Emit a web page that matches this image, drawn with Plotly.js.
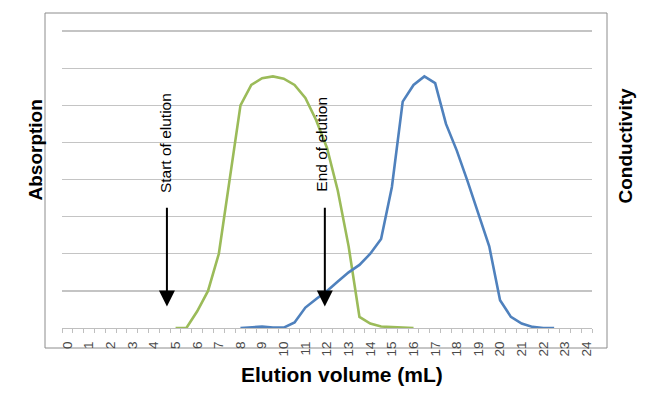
<!DOCTYPE html>
<html>
<head>
<meta charset="utf-8">
<script src="https://cdn.plot.ly/plotly-3.0.1.min.js"></script>
<style>html,body{margin:0;padding:0;background:#fff;}#chart{width:663px;height:403px;}</style>
</head>
<body>
<div id="chart"></div>
<script>
// Elution volume (mL) sample points and readings
var volumeAbsorption = [5, 5.5, 6, 6.5, 7, 7.5, 8, 8.5, 9, 9.5, 10, 10.5, 11, 11.5, 12, 12.5, 13, 13.5, 14, 14.5, 15, 15.5, 16];
var absorption       = [0, 0, 0.45, 1.0, 2.0, 4.0, 6.0, 6.55, 6.73, 6.78, 6.72, 6.55, 6.2, 5.6, 4.85, 3.7, 2.2, 0.3, 0.12, 0.04, 0.02, 0, 0];

var volumeConductivity = [8, 8.5, 9, 9.5, 10, 10.5, 11, 11.5, 12, 12.5, 13, 13.5, 14, 14.5, 15, 15.5, 16, 16.5, 17, 17.5, 18, 18.5, 19, 19.5, 20, 20.5, 21, 21.5, 22, 22.5];
var conductivity       = [0, 0.03, 0.04, 0.01, 0.01, 0.15, 0.55, 0.78, 1.0, 1.25, 1.5, 1.7, 2.0, 2.4, 3.8, 6.1, 6.55, 6.78, 6.6, 5.5, 4.78, 3.95, 3.1, 2.2, 0.75, 0.3, 0.12, 0.03, 0, 0];

var tickValues = [0,1,2,3,4,5,6,7,8,9,10,11,12,13,14,15,16,17,18,19,20,21,22,23,24];
var tickLabels = ["0","1","2","3","4","5","6","7","8","9","10","11","12","13","14","15","16","17","18","19","20","21","22","23","24"];

var markerLabels = ["Start of elution", "End of elution"];
var markerVolumes = [4.6, 11.9];

var traces = [
  {x: volumeAbsorption, y: absorption, type: 'scatter', mode: 'lines', name: 'Absorption',
   line: {color: '#9BBB59', width: 2.6}, yaxis: 'y', hoverinfo: 'skip'},
  {x: volumeConductivity, y: conductivity, type: 'scatter', mode: 'lines', name: 'Conductivity',
   line: {color: '#4F81BD', width: 2.6}, yaxis: 'y2', hoverinfo: 'skip'}
];

var L = 62, R = 592, T = 30, B = 328;
function px(xp){ return (xp - L) / (R - L); }
function py(yp){ return (B - yp) / (B - T); }

var annotations = [
  {xref: 'paper', yref: 'paper', x: px(22), y: py(150), text: '<b>Absorption</b>', showarrow: false,
   textangle: -90, font: {family: 'Liberation Sans, Arial, sans-serif', size: 19, color: '#000'}},
  {xref: 'paper', yref: 'paper', x: px(637), y: py(146), text: '<b>Conductivity</b>', showarrow: false,
   textangle: -90, font: {family: 'Liberation Sans, Arial, sans-serif', size: 19, color: '#000'}},
  {xref: 'paper', yref: 'paper', x: px(342), y: py(388), text: '<b>Elution volume (mL)</b>', showarrow: false,
   font: {family: 'Liberation Sans, Arial, sans-serif', size: 21, color: '#000'}}
];
var textOffsets = [-0.03, -0.13];
var textY = [4.99, 4.94];
for (var i = 0; i < markerLabels.length; i++) {
  annotations.push({xref: 'x', yref: 'y', x: markerVolumes[i] + textOffsets[i], y: textY[i], text: markerLabels[i],
    showarrow: false, textangle: -90,
    font: {family: 'Liberation Sans, Arial, sans-serif', size: 15.5, color: '#000'}});
  annotations.push({xref: 'x', yref: 'y', x: markerVolumes[i], y: 0.58, axref: 'x', ayref: 'y',
    ax: markerVolumes[i], ay: 3.28, text: '', showarrow: true, arrowhead: 2, arrowsize: 1.6,
    arrowwidth: 2, arrowcolor: '#000', standoff: 0, startstandoff: 0});
}

var layout = {
  width: 663, height: 403,
  margin: {l: L, r: 663 - R, t: T, b: 403 - B, pad: 0},
  paper_bgcolor: '#fff', plot_bgcolor: '#fff',
  showlegend: false,
  xaxis: {
    range: [-0.25, 24.25], tickmode: 'array', tickvals: tickValues, ticktext: tickLabels,
    tickangle: -90, ticks: '', showgrid: false, zeroline: false,
    showline: true, linecolor: '#bfbfbf', linewidth: 1, ticklabelstandoff: 7,
    tickfont: {family: 'Liberation Sans, Arial, sans-serif', size: 13.5, color: '#4a4a4a'},
    minor: {tick0: -0.25, dtick: 0.5, ticks: 'outside', ticklen: 4, tickcolor: '#bfbfbf', showgrid: false}
  },
  yaxis: {
    range: [0, 8.03], tickmode: 'linear', dtick: 1, tick0: 0, showticklabels: false, ticks: '',
    showgrid: true, gridcolor: '#c4c4c4', gridwidth: 1.3, zeroline: false, showline: false
  },
  yaxis2: {
    range: [0, 8.03], overlaying: 'y', side: 'right', showticklabels: false, ticks: '',
    showgrid: false, zeroline: false, showline: false
  },
  shapes: [
    {type: 'rect', xref: 'paper', yref: 'paper', x0: px(45), x1: px(607), y0: py(348), y1: py(13),
     line: {color: '#8c8c8c', width: 1}, fillcolor: 'rgba(0,0,0,0)', layer: 'below'}
  ],
  annotations: annotations
};

Plotly.newPlot('chart', traces, layout, {staticPlot: true, displayModeBar: false});
</script>
</body>
</html>
